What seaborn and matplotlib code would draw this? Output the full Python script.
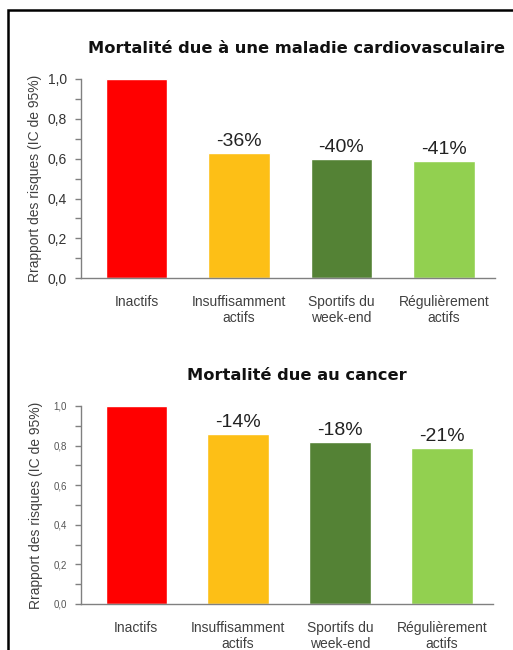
import numpy as np
import pandas as pd
import matplotlib
matplotlib.use("Agg")
import matplotlib.pyplot as plt
import seaborn as sns
from matplotlib.ticker import MultipleLocator, FuncFormatter
from matplotlib.patches import Rectangle

# Données
categories = ["Inactifs", "Insuffisamment\nactifs", "Sportifs du\nweek-end", "Régulièrement\nactifs"]
cardio_values = [1.0, 0.63, 0.60, 0.59]
cancer_values = [1.0, 0.86, 0.82, 0.79]
cardio_labels = ["", "-36%", "-40%", "-41%"]
cancer_labels = ["", "-14%", "-18%", "-21%"]
bar_colors = ["#FF0000", "#FDBF16", "#548235", "#92D050"]

sns.set_theme(style="white")
plt.rcParams['font.family'] = ['Liberation Sans', 'DejaVu Sans']

fig = plt.figure(figsize=(5.13, 6.5), dpi=100)

# cadre noir autour de la figure (coupé à droite et en bas)
fig.patches.append(Rectangle((8 / 513, -0.05), 1.1, 1.05 - 10 / 650, transform=fig.transFigure,
                             fill=False, edgecolor="black", linewidth=1.8))

panels = [
    ("Mortalité due à une maladie cardiovasculaire", cardio_values, cardio_labels,
     [0.158, 0.572, 0.807, 0.3065], 10, "#333333", 0.925, 4),
    ("Mortalité due au cancer", cancer_values, cancer_labels,
     [0.158, 0.0708, 0.803, 0.3046], 7, "#555555", 0.423, 8),
]

for title, values, labels, rect, tick_fs, tick_col, title_y, lpad in panels:
    ax = fig.add_axes(rect)
    df = pd.DataFrame({"cat": categories, "val": values})
    sns.barplot(data=df, x="cat", y="val", hue="cat", palette=bar_colors,
                width=0.6, legend=False, ax=ax, saturation=1)
    ax.set_xlim(-0.54, 3.5)
    ax.set_ylim(0, 1.0)
    ax.yaxis.set_major_locator(MultipleLocator(0.2))
    ax.yaxis.set_minor_locator(MultipleLocator(0.1))
    ax.yaxis.set_major_formatter(FuncFormatter(lambda v, p: f"{v:.1f}".replace(".", ",")))
    ax.tick_params(axis="y", which="both", direction="out", left=True, length=4,
                   width=1, color="#808080", labelsize=tick_fs, labelcolor=tick_col, pad=6)
    ax.tick_params(axis="x", bottom=False, labelsize=10, labelcolor="#404040", pad=6)
    for s in ["top", "right"]:
        ax.spines[s].set_visible(False)
    for s in ["left", "bottom"]:
        ax.spines[s].set_color("#808080")
        ax.spines[s].set_linewidth(1)
    ax.set_xlabel("")
    ax.set_ylabel("Rrapport des risques (IC de 95%)", fontsize=10, color="#404040", labelpad=lpad)
    for i, (v, lab) in enumerate(zip(values, labels)):
        if lab:
            ax.text(i, v + 0.015, lab, ha="center", va="bottom", fontsize=14, color="#222222")
    fig.text(0.578, title_y, title, ha="center", va="center", fontsize=11.7,
             fontweight="bold", color="#111111", family=["DejaVu Sans"])

fig.savefig("out.png", dpi=100)
